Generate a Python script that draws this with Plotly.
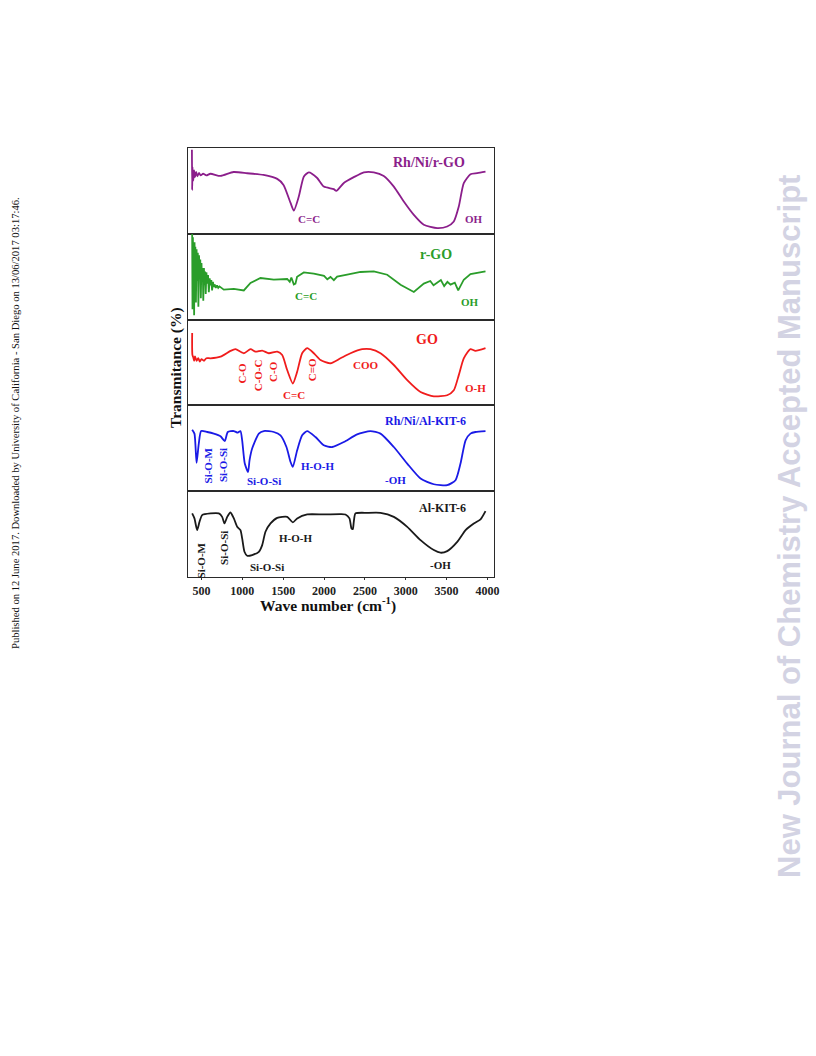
import plotly.graph_objects as go
from plotly.subplots import make_subplots

# ---------------- data ----------------
rhni_rgo_x = [383, 386, 390, 400, 410, 420, 435, 450, 470, 490, 520, 560, 610, 733, 892, 1059, 1259, 1427,
              1504, 1590, 1630, 1691, 1752, 1813, 1916, 1997, 2119, 2150, 2242, 2364, 2487, 2609, 2731, 2854,
              2976, 3099, 3221, 3385, 3507, 3588, 3649, 3710, 3792, 3874, 3976]
rhni_rgo_y = [98, 51, 78, 62, 74, 66, 72, 67, 71, 68, 70, 68, 70, 67.4, 72, 70.6, 68.6, 64,
              57, 36, 27, 43.4, 66.6, 71.7, 65, 55, 52, 50, 59.3, 66, 71.7, 71.7, 67.4, 55,
              37.6, 22, 10.5, 6.6, 8.5, 14.3, 31.7, 59, 69.4, 70.6, 72.4]

rgo_x = [386, 390, 395, 400, 405, 410, 415, 420, 425, 432, 440, 447, 455, 462, 470, 477, 485, 492, 500,
         507, 515, 522, 530, 537, 545, 552, 560, 570, 580, 590, 600, 610, 620, 630, 640, 650,
         660, 675, 690, 705, 720, 773, 896, 1018, 1100, 1222, 1385, 1549, 1580, 1600, 1630, 1650, 1670,
         1752, 1875, 2000, 2040, 2079, 2120, 2160, 2283, 2446, 2609, 2773, 2936, 3099, 3221, 3300, 3340,
         3385, 3430, 3470, 3510, 3548, 3600, 3642, 3710, 3792, 3976]
rgo_y = [100, 12, 96, 30, 88, 5, 90, 40, 85, 20, 82, 45, 78, 15, 75, 50, 70, 25, 66,
         45, 60, 22, 60, 40, 56, 30, 55, 42, 52, 32, 48, 40, 46, 34, 44, 38,
         41, 37, 40, 37, 38.7, 34.9, 35.7, 34, 42.7, 48.5, 46.5, 47.3, 44, 49, 41, 41.9, 50,
         55, 53.5, 51, 47, 49.7, 46, 50, 52.3, 55.5, 56.2, 52.3, 40.7, 32.2, 41.9, 45, 40,
         43.4, 46, 39, 44, 40.7, 43, 34, 46.5, 53.1, 56.2]

go_x = [386, 389, 400, 410, 420, 440, 460, 480, 500, 530, 560, 610, 733, 855, 916, 1018, 1100, 1161,
        1243, 1324, 1427, 1488, 1549, 1618, 1671, 1732, 1794, 1875, 1957, 2079, 2201, 2324, 2467,
        2568, 2691, 2854, 3018, 3181, 3344, 3507, 3588, 3649, 3710, 3792, 3853, 3976]
go_y = [84.4, 58.8, 56, 52, 57, 52, 55, 51, 54, 52, 55, 54.9, 56.8, 63.5, 65.5, 60.8, 65.5, 62.7,
        63.9, 60.8, 62.7, 58.8, 41.2, 25.5, 39.2, 60.8, 66.7, 60.8, 52.9, 49.1, 54.9, 60.8, 65.5,
        65.5, 60.8, 47.1, 29.4, 15.6, 10.6, 11.8, 17.6, 35.3, 54.9, 65.5, 63.5, 66.7]

rhni_kit_x = [386, 414, 440, 467, 496, 570, 651, 733, 785, 822, 896, 944, 977, 998, 1030, 1070, 1088,
              1120, 1202, 1263, 1385, 1467, 1540, 1590, 1618, 1671, 1732, 1794, 1895, 1997, 2099,
              2242, 2405, 2568, 2691, 2854, 3018, 3181, 3344, 3507, 3609, 3670, 3732, 3792, 3853, 3976]
rhni_kit_y = [71.7, 67.1, 33, 55.5, 70.1, 69, 67.1, 64, 58.5, 69, 70.1, 68.3, 70.1, 59.3, 32.2, 22.4, 36,
              49.7, 67.1, 70.1, 69, 65.1, 51.5, 34.1, 28.3, 47.7, 65.1, 70.1, 63.1, 53.5, 51.5,
              57.3, 66.3, 70.1, 67.1, 51.5, 32.2, 14.8, 8.1, 7, 12.8, 32.2, 59.3, 67.1, 69, 70.1]

alkit_x = [386, 414, 447, 476, 508, 610, 712, 753, 782, 815, 855, 896, 937, 977, 998, 1026, 1059, 1120,
           1202, 1243, 1283, 1345, 1427, 1549, 1618, 1671, 1794, 1997, 2201, 2262, 2311, 2336, 2352,
           2364, 2385, 2528, 2691, 2854, 3018, 3181, 3344, 3425, 3507, 3630, 3732, 3833, 3915, 3976]
alkit_y = [74.1, 68.3, 54.7, 64.3, 72.1, 74.1, 74.1, 70.1, 62.4, 70.1, 75.2, 68.3, 58.5, 54.7, 45, 29.4,
           24.8, 25.6, 29.4, 37.2, 52.7, 62.4, 69, 70.1, 63.6, 68.3, 72.9, 72.9, 73.3, 72.9, 68.3,
           56.6, 55.8, 64.3, 74.1, 74.8, 74.8, 70.1, 58.5, 43, 31.4, 28.3, 30.2, 41, 54.7, 62.4,
           67.1, 76.7]

x_ticks = [500, 1000, 1500, 2000, 2500, 3000, 3500, 4000]

# ---------------- figure ----------------
FONT = "Liberation Serif"
# the page has an 8px body margin, so the figure is drawn 8px smaller and shifted
OFF = 8
W, H = 816 - OFF, 1056 - OFF
L, R, T, B = 188 - OFF, 816 - 494, 148 - OFF, 1056 - 577
PW, PH = W - L - R, H - T - B

def px(xp):
    return (xp - OFF - L) / PW

def py(yp):
    return (H - B - (yp - OFF)) / PH

fig = make_subplots(rows=5, cols=1, shared_xaxes=True, vertical_spacing=0)

series = [
    (rhni_rgo_x, rhni_rgo_y, "#8b1e8b"),
    (rgo_x, rgo_y, "#2a9d2a"),
    (go_x, go_y, "#f01c1c"),
    (rhni_kit_x, rhni_kit_y, "#1a1ae6"),
    (alkit_x, alkit_y, "#1a1a1a"),
]
for i, (xs, ys, c) in enumerate(series, start=1):
    shape = "linear" if i == 2 else "spline"
    fig.add_trace(go.Scatter(x=xs, y=ys, mode="lines",
                             line=dict(color=c, width=1.8, shape=shape, smoothing=0.6),
                             showlegend=False, hoverinfo="skip"), row=i, col=1)

for i in range(1, 6):
    fig.update_yaxes(range=[0, 100], showticklabels=False, ticks="", showgrid=False, zeroline=False,
                     showline=True, mirror=True, linecolor="#2a2a2a", linewidth=1.2, row=i, col=1)
    fig.update_xaxes(range=[335, 4080], showgrid=False, zeroline=False,
                     showline=True, mirror=True, linecolor="#2a2a2a", linewidth=1.2, row=i, col=1)
fig.update_xaxes(tickvals=x_ticks, ticktext=["<b>%d</b>" % t for t in x_ticks], ticks="outside", ticklen=2,
                 tickcolor="#333333",
                 tickfont=dict(family=FONT, size=12, color="#222222"), row=5, col=1)

def lab(text, x, y, row, color, size=11, angle=0):
    fig.add_annotation(text="<b>%s</b>" % text, x=x, y=y, xref="x%d" % row if row > 1 else "x",
                       yref="y%d" % row if row > 1 else "y", showarrow=False, textangle=angle,
                       xanchor="center", yanchor="middle",
                       font=dict(family=FONT, size=size, color=color))

P, G, Rd, Bl, K = "#8b1e8b", "#2a9d2a", "#f01c1c", "#1a1ae6", "#1a1a1a"
lab("Rh/Ni/r-GO", 3290, 83, 1, P, 14)
lab("C=C", 1810, 17.4, 1, P)
lab("OH", 3830, 17.4, 1, P)

lab("r-GO", 3365, 75.6, 2, G, 14)
lab("C=C", 1775, 27, 2, G)
lab("OH", 3790, 20, 2, G)

lab("GO", 3260, 76.5, 3, Rd, 14)
lab("COO", 2510, 47, 3, Rd)
lab("C=C", 1630, 11.8, 3, Rd)
lab("O-H", 3855, 20.4, 3, Rd)
lab("C-O", 998, 37.3, 3, Rd, 11, -90)
lab("C-O-C", 1194, 35.3, 3, Rd, 11, -90)
lab("C-O", 1373, 40, 3, Rd, 11, -90)
lab("C=O", 1855, 41.2, 3, Rd, 11, -90)

lab("Rh/Ni/Al-KIT-6", 3240, 81.7, 4, Bl, 12)
lab("Si-O-M", 582, 30.2, 4, Bl, 11, -90)
lab("Si-O-Si", 773, 30.2, 4, Bl, 11, -90)
lab("Si-O-Si", 1263, 11.6, 4, Bl)
lab("H-O-H", 1916, 29, 4, Bl)
lab("-OH", 2875, 12.8, 4, Bl)

lab("Al-KIT-6", 3446, 80, 5, K, 12)
lab("Si-O-M", 500, 19.8, 5, K, 11, -90)
lab("Si-O-Si", 773, 33.7, 5, K, 11, -90)
lab("Si-O-Si", 1304, 12, 5, K)
lab("H-O-H", 1650, 45, 5, K)
lab("-OH", 3425, 14, 5, K)

def ptext(text, xp, yp, font, angle=0):
    fig.add_annotation(text=text, x=px(xp), y=py(yp), xref="paper", yref="paper", showarrow=False,
                       textangle=angle, xanchor="center", yanchor="middle", font=font)

# axis titles
ptext("<b>Wave number (cm<sup>-1</sup>)</b>", 328, 604, dict(family=FONT, size=15.5, color="#111111"))
ptext("<b>Transmitance (%)</b>", 176, 368, dict(family=FONT, size=15.5, color="#111111"), -90)

# page marks
ptext("Published on 12 June 2017. Downloaded by University of California - San Diego on 13/06/2017 03:17:46.",
      15, 423, dict(family=FONT, size=10.6, color="#111111"), -90)
ptext("<b>New Journal of Chemistry Accepted Manuscript</b>", 789, 527,
      dict(family="Liberation Sans", size=31, color="#d3d3e3"), -90)

fig.update_layout(width=W, height=H, margin=dict(l=L, r=R, t=T, b=B, pad=0),
                  paper_bgcolor="white", plot_bgcolor="white")

fig.write_html("out.html")
